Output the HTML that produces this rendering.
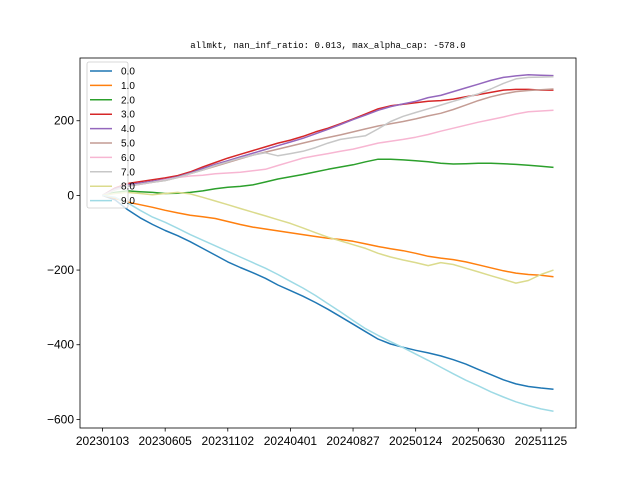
<!DOCTYPE html>
<html><head><meta charset="utf-8"><style>
body{margin:0;background:#fff;}
svg{display:block;font-family:"Liberation Sans","Noto Sans CJK SC",sans-serif;}
</style></head><body>
<svg id="chart" width="640" height="480" viewBox="0 0 640 480">
<rect x="0" y="0" width="640" height="480" fill="#fff"/>
<text x="328" y="48" text-anchor="middle" font-size="9" font-family="Liberation Mono, monospace">allmkt, nan_inf_ratio: 0.013, max_alpha_cap: -578.0</text>
<g id="plot"></g>
</svg>
<script>
const xLabels=["20230103","20230605","20231102","20240401","20240827","20250124","20250630","20251125"];
const yTicks=[200,0,-200,-400,-600];
const seriesNames=["0.0","1.0","2.0","3.0","4.0","5.0","6.0","7.0","8.0","9.0"];
const s0=[0,-12,-38,-60,-78,-94,-108,-124,-142,-160,-178,-193,-207,-222,-240,-255,-270,-287,-305,-325,-345,-365,-385,-398,-407,-415,-422,-430,-440,-452,-466,-480,-494,-505,-512,-516,-519];
const s1=[0,-8,-18,-25,-32,-40,-47,-53,-57,-62,-70,-78,-85,-90,-95,-100,-105,-110,-115,-118,-123,-130,-137,-143,-148,-155,-163,-168,-172,-178,-186,-194,-202,-208,-212,-214,-218];
const s2=[0,8,12,10,8,5,6,8,12,18,22,24,28,36,44,50,56,63,70,76,82,90,97,97,95,93,90,86,84,85,86,86,85,83,81,78,75];
const s3=[0,20,32,37,42,47,53,63,76,88,100,110,120,130,140,148,158,170,180,192,205,218,232,240,244,248,252,254,258,264,270,276,282,284,284,282,282];
const s4=[0,18,28,33,38,43,50,60,72,83,93,103,113,123,133,143,153,165,177,190,203,215,228,238,245,252,262,268,278,288,298,308,316,320,323,322,321];
const s5=[0,15,25,30,35,40,48,58,68,78,88,98,108,116,124,132,140,148,155,162,170,178,186,192,198,205,213,220,230,242,254,264,272,278,281,283,285];
const s6=[0,15,25,30,35,42,48,52,54,58,60,62,66,70,80,90,100,106,112,118,124,132,140,145,150,156,163,172,180,188,196,203,210,218,224,226,228];
const s7=[0,15,25,30,35,40,48,58,68,80,90,100,108,114,106,112,118,128,140,150,155,160,178,198,212,222,232,242,252,262,272,285,300,312,316,317,318];
const s8=[0,5,8,5,2,5,8,4,-5,-15,-25,-35,-45,-55,-65,-75,-87,-100,-112,-122,-132,-142,-155,-165,-173,-180,-188,-180,-185,-195,-205,-215,-225,-235,-228,-212,-200];
const s9=[0,-5,-20,-40,-58,-72,-88,-105,-120,-135,-150,-165,-180,-195,-212,-230,-248,-268,-290,-312,-335,-357,-375,-392,-408,-425,-442,-460,-478,-495,-510,-526,-540,-553,-563,-572,-578];
const series=[s0,s1,s2,s3,s4,s5,s6,s7,s8,s9];
const colors=["#1f77b4","#ff7f0e","#2ca02c","#d62728","#9467bd","#c49c94","#f7b6d2","#c7c7c7","#dbdb8d","#9edae5"];
const tickEvery=5;

const L=80,R=576,T=58,B=428;
const n=s0.length;
const xPad=(n-1)*0.05;
const allV=series.flat();
const vmin=Math.min(...allV),vmax=Math.max(...allV),vPad=(vmax-vmin)*0.05;
const xs=i=>L+(i+xPad)/((n-1)+2*xPad)*(R-L);
const ys=v=>B-(v-(vmin-vPad))/((vmax+vPad)-(vmin-vPad))*(B-T);
const NS="http://www.w3.org/2000/svg";
const g=document.getElementById('plot');
function mk(tag,attrs){const e=document.createElementNS(NS,tag);for(const k in attrs)e.setAttribute(k,attrs[k]);return e;}

series.forEach((s,si)=>{
  const p=mk('polyline',{points:s.map((v,i)=>xs(i).toFixed(1)+','+ys(v).toFixed(1)).join(' '),fill:'none',stroke:colors[si],'stroke-width':1.5,'stroke-linejoin':'round'});
  
  
  g.appendChild(p);
});
const frame=mk('rect',{x:L,y:T,width:R-L,height:B-T,fill:'none',stroke:'#000','stroke-width':0.8});


g.appendChild(frame);

xLabels.forEach((lab,k)=>{
  const x=xs(k*tickEvery);
  const t=mk('line',{x1:x,x2:x,y1:B,y2:B+3.5,stroke:'#000','stroke-width':0.8});
  
  
  g.appendChild(t);
  const tx=mk('text',{x:x,y:B+17,'text-anchor':'middle','font-size':12});
  tx.textContent=lab;
  
  
  g.appendChild(tx);
});
yTicks.forEach(v=>{
  const y=ys(v);
  const t=mk('line',{x1:L-3.5,x2:L,y1:y,y2:y,stroke:'#000','stroke-width':0.8});
  
  
  g.appendChild(t);
  const tx=mk('text',{x:L-6,y:y+4,'text-anchor':'end','font-size':12});
  tx.textContent=v<0?'\u2212'+Math.abs(v):String(v);
  
  
  g.appendChild(tx);
});

const lg=mk('g',{});


g.appendChild(lg);
const lbox=mk('rect',{x:87,y:62,width:41,height:146,rx:2,fill:'#fff','fill-opacity':0.8,stroke:'#ccc','stroke-width':0.8});


lg.appendChild(lbox);
seriesNames.forEach((nm,i)=>{
  const y=71+i*14.4;
  const ln=mk('line',{x1:90,x2:112,y1:y,y2:y,stroke:colors[i],'stroke-width':1.5});
  
  
  lg.appendChild(ln);
  const tx=mk('text',{x:121,y:y+3.5,'font-size':10});
  tx.textContent=nm;
  
  
  lg.appendChild(tx);
});
</script>
</body></html>
